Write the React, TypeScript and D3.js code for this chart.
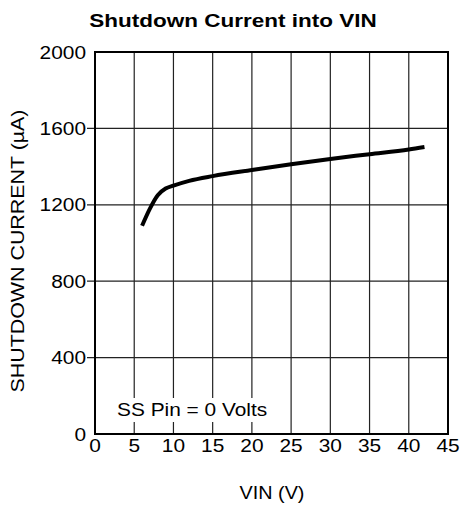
import React, { useEffect, useRef } from 'react';
import * as d3 from 'd3';

// values
const vin = [6, 7, 8, 9, 10, 12, 15, 20, 25, 30, 35, 40, 42];
const current = [1090, 1180, 1250, 1285, 1300, 1325, 1350, 1382, 1412, 1440, 1465, 1490, 1503];
const xTicks = [0, 5, 10, 15, 20, 25, 30, 35, 40, 45];
const yTicks = [0, 400, 800, 1200, 1600, 2000];

const W = 461;
const H = 506;
const FONT = '"Liberation Sans", Arial, Helvetica, sans-serif';

const App = () => {
  const ref = useRef<SVGSVGElement>(null);

  useEffect(() => {
    const svg = d3.select(ref.current);
    svg.selectAll('*').remove();

    const margin = { top: 52, right: 13, bottom: 72, left: 95 };
    const x = d3.scaleLinear().domain([0, 45]).range([margin.left, W - margin.right]);
    const y = d3.scaleLinear().domain([0, 2000]).range([H - margin.bottom, margin.top]);

    // the reference type is a bit wide, so stretch it horizontally
    const label = (
      px: number, py: number, str: string | number,
      opts: { anchor?: string; sx?: number; rot?: number; weight?: string; size?: number } = {}
    ) => {
      const { anchor = 'start', sx = 1.16, rot = 0, weight = 'normal', size = 18 } = opts;
      return svg.append('text')
        .attr('transform', `translate(${px},${py}) rotate(${rot}) scale(${sx},1)`)
        .attr('text-anchor', anchor)
        .attr('font-family', FONT)
        .attr('font-size', size)
        .attr('font-weight', weight)
        .attr('fill', '#000')
        .text(str);
    };

    svg.append('rect').attr('width', W).attr('height', H).attr('fill', '#fff');

    // grid
    const grid = svg.append('g').attr('stroke', '#222').attr('stroke-width', 1.2);
    grid.selectAll('line.v')
      .data(xTicks.slice(1, -1))
      .enter().append('line')
      .attr('x1', d => x(d)).attr('x2', d => x(d))
      .attr('y1', y(0)).attr('y2', y(2000));
    grid.selectAll('line.h')
      .data(yTicks.slice(1, -1))
      .enter().append('line')
      .attr('x1', x(0) - 8).attr('x2', x(45))
      .attr('y1', d => y(d)).attr('y2', d => y(d));

    // annotation with white background
    svg.append('rect')
      .attr('x', 115).attr('y', 398)
      .attr('width', 156).attr('height', 24)
      .attr('fill', '#fff');
    label(117, 416, 'SS Pin = 0 Volts');

    // frame
    svg.append('rect')
      .attr('x', x(0)).attr('y', y(2000))
      .attr('width', x(45) - x(0)).attr('height', y(0) - y(2000))
      .attr('fill', 'none').attr('stroke', '#000').attr('stroke-width', 2);

    // curve
    const pts = vin.map((v, i) => [v, current[i]] as [number, number]);
    const line = d3.line<[number, number]>()
      .x(d => x(d[0]))
      .y(d => y(d[1]))
      .curve(d3.curveMonotoneX);
    svg.append('path')
      .attr('d', line(pts))
      .attr('fill', 'none')
      .attr('stroke', '#000')
      .attr('stroke-width', 4);

    // tick labels
    xTicks.forEach(t => label(x(t), 452, t, { anchor: 'middle' }));
    yTicks.forEach(t => label(86, y(t) + 6.5, t, { anchor: 'end' }));

    // titles
    label(233, 27, 'Shutdown Current into VIN', { anchor: 'middle', weight: 'bold', sx: 1.25 });
    label(272, 499, 'VIN (V)', { anchor: 'middle', sx: 1.1 });
    label(24, 251, 'SHUTDOWN CURRENT (µA)', { anchor: 'middle', rot: -90, sx: 1.19 });
  }, []);

  return (
    <svg ref={ref} width={W} height={H} style={{ position: 'absolute', left: 0, top: 0 }} />
  );
};

export default App;
